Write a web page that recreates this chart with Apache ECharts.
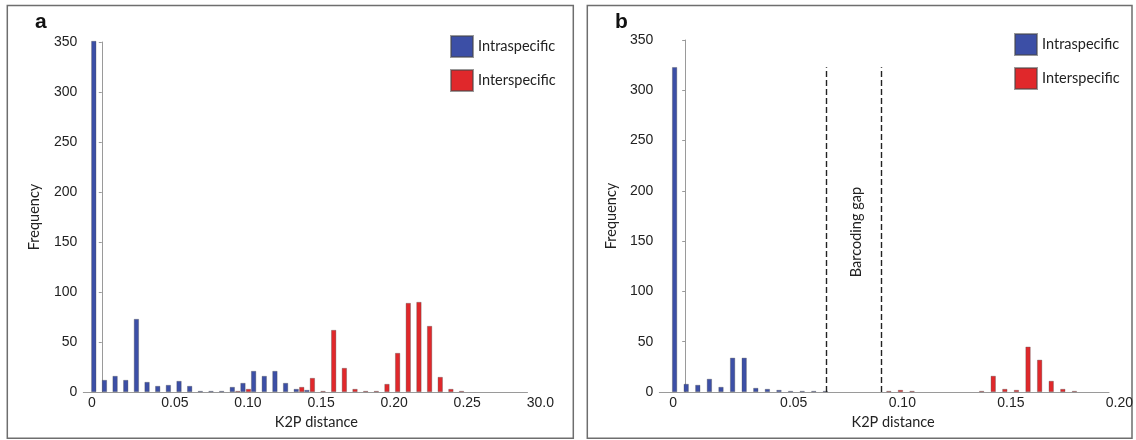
<!DOCTYPE html>
<html>
<head>
<meta charset="utf-8">
<script src="https://cdn.jsdelivr.net/npm/echarts@6/dist/echarts.min.js"></script>
<style>
  html, body { margin: 0; padding: 0; background: #fff; }
  #chart { width: 1136px; height: 440px; }
</style>
</head>
<body>
<div id="chart"></div>
<script>
// K2P distance histograms (counts per bin)
// panel a
const intraA = [351, 12, 16, 12, 73, 10, 6, 7, 11, 6, 1, 1, 1, 5, 9, 21, 16, 21, 9, 3, 2,
  0, 0, 0, 0, 0, 0, 0, 0, 0, 0, 0, 0, 0, 0];
const interA = [0, 0, 0, 0, 0, 0, 0, 0, 0, 0, 0, 0, 0, 1, 3, 0, 0, 0, 0, 5, 14,
  1, 62, 24, 3, 1, 1, 8, 39, 89, 90, 66, 15, 3, 1];
const tickLabelsA = ['0', '0.05', '0.10', '0.15', '0.20', '0.25', '30.0'];

// panel b
const intraB = [323, 8, 7, 13, 5, 34, 34, 4, 3, 2, 1, 1, 1, 1, 0, 0, 0, 0, 0, 0, 0,
  0, 0, 0, 0, 0, 0, 0, 0, 0, 0, 0, 0, 0, 0];
const interB = [0, 0, 0, 0, 0, 0, 0, 0, 0, 0, 0, 0, 0, 0, 0, 0, 0, 0, 1, 2, 1,
  0, 0, 0, 0, 0, 1, 16, 3, 2, 45, 32, 11, 3, 1];
const tickLabelsB = ['0', '0.05', '0.10', '0.15', '0.20'];
const gapLines = [0.0660, 0.0913];   // barcoding gap boundaries (K2P)
const gapTop = 323;

const seriesNames = ['Intraspecific', 'Interspecific'];
const colors = ['#3C4FA6', '#E0282B'];

// bin layout of each panel (the original axes are drawn a bit loosely)
const binA = 0.00729, startA = -0.0036, minA = -0.01266, maxA = 0.29126;
const binB = 0.00532, startB = -0.0036, minB = -0.01188, maxB = 0.19440;

const txtFont = 'Lato';
const numFont = 'Liberation Sans';
const tickStyle = {fontFamily: numFont, fontSize: 14, color: '#222'};

function toBars(values, start, bin) {
  return values.map((v, i) => [start + i * bin, v === 0 ? '-' : v]);
}

// main x axis: line + name, no labels
function xAxisFor(grid, min, max, namePad) {
  return {
    gridIndex: grid,
    type: 'value',
    min: min,
    max: max,
    name: 'K2P distance',
    nameLocation: 'middle',
    nameGap: 23,
    nameTextStyle: {fontFamily: txtFont, fontSize: 14.5, color: '#222', padding: [0, 0, 0, namePad]},
    axisLine: {show: true, lineStyle: {color: '#9a9a9a', width: 1}},
    axisTick: {show: false},
    splitLine: {show: false},
    axisLabel: {show: false}
  };
}

// tick label axis, sits in its own grid so that 0 lands where the figure puts it
function labelAxisFor(grid, labels, shiftFirst) {
  return {
    gridIndex: grid,
    type: 'value',
    min: 0,
    max: (labels.length - 1) * 0.05,
    interval: 0.05,
    axisLine: {show: false},
    axisTick: {show: false},
    splitLine: {show: false},
    axisLabel: Object.assign({
      margin: 4,
      showMinLabel: true,
      showMaxLabel: true,
      formatter: function (value) {
        const k = Math.round(value / 0.05);
        return k === 0 ? '{first|' + labels[0] + '}' : labels[k];
      },
      rich: {first: Object.assign({padding: [0, shiftFirst, 0, 0]}, tickStyle)}
    }, tickStyle)
  };
}

function yAxisFor(grid, gap) {
  return {
    gridIndex: grid,
    type: 'value',
    min: 0,
    max: 350,
    interval: 50,
    name: 'Frequency',
    nameLocation: 'middle',
    nameGap: gap,
    nameTextStyle: {fontFamily: txtFont, fontSize: 14.5, color: '#222'},
    axisLine: {show: true, lineStyle: {color: '#9a9a9a', width: 1}},
    axisTick: {show: true, length: 3, lineStyle: {color: '#9a9a9a'}},
    splitLine: {show: false},
    axisLabel: Object.assign({margin: 6}, tickStyle)
  };
}

function barSeries(name, idx, data, color, extra) {
  return Object.assign({
    name: name,
    type: 'bar',
    xAxisIndex: idx,
    yAxisIndex: idx,
    data: data,
    barWidth: 5,
    barGap: '10%',
    clip: false,
    itemStyle: {color: color, borderColor: 'rgba(70,70,70,0.55)', borderWidth: 0.6}
  }, extra || {});
}

function legendFor(left, top) {
  return {
    left: left,
    top: top,
    padding: 0,
    orient: 'vertical',
    icon: 'rect',
    itemWidth: 22,
    itemHeight: 21,
    itemGap: 11,
    data: seriesNames,
    selectedMode: false,
    textStyle: {fontFamily: txtFont, fontSize: 14.5, color: '#222'}
  };
}

const chart = echarts.init(document.getElementById('chart'), null, {renderer: 'canvas'});

const option = {
  animation: false,
  backgroundColor: '#fff',
  color: colors,
  title: [
    {text: 'a', left: 35, top: 12, padding: 0, textStyle: {fontFamily: numFont, fontWeight: 'bold', fontSize: 21, color: '#111'}},
    {text: 'b', left: 615, top: 12, padding: 0, textStyle: {fontFamily: numFont, fontWeight: 'bold', fontSize: 21, color: '#111'}}
  ],
  legend: [legendFor(450, 35), legendFor(1014, 33)],
  grid: [
    {left: 83.3, top: 42, width: 444.2, height: 350},
    {left: 659.3, top: 40, width: 449.7, height: 352},
    {left: 101.8, top: 42, width: 438.5, height: 350},
    {left: 685.2, top: 40, width: 436, height: 352}
  ],
  xAxis: [
    xAxisFor(0, minA, maxA, 22),
    xAxisFor(1, minB, maxB, 18),
    labelAxisFor(2, tickLabelsA, 20),
    labelAxisFor(3, tickLabelsB, 24)
  ],
  yAxis: [
    yAxisFor(0, 41),
    yAxisFor(1, 40),
    {gridIndex: 2, type: 'value', show: false},
    {gridIndex: 3, type: 'value', show: false}
  ],
  series: [
    barSeries(seriesNames[0], 0, toBars(intraA, startA, binA), colors[0]),
    barSeries(seriesNames[1], 0, toBars(interA, startA, binA), colors[1]),
    barSeries(seriesNames[0], 1, toBars(intraB, startB, binB), colors[0], {
      markLine: {
        silent: true,
        symbol: 'none',
        label: {show: false},
        lineStyle: {color: '#222', width: 1.4, type: [6, 3]},
        data: gapLines.map(x => [{coord: [x, 0]}, {coord: [x, gapTop]}])
      }
    }),
    barSeries(seriesNames[1], 1, toBars(interB, startB, binB), colors[1])
  ]
};
chart.setOption(option);

// panel frames and the "Barcoding gap" note
const gapMid = chart.convertToPixel({gridIndex: 1}, [(gapLines[0] + gapLines[1]) / 2, 159]);
chart.setOption({
  graphic: [
    {type: 'rect', shape: {x: 7.3, y: 5.5, width: 566, height: 432.8}, style: {fill: 'none', stroke: '#6e6e6e', lineWidth: 1.5}, z: -1},
    {type: 'rect', shape: {x: 587.3, y: 5.5, width: 544.7, height: 432.8}, style: {fill: 'none', stroke: '#6e6e6e', lineWidth: 1.5}, z: -1},
    {
      type: 'text',
      x: gapMid[0],
      y: gapMid[1],
      rotation: Math.PI / 2,
      style: {text: 'Barcoding gap', fontFamily: txtFont, fontSize: 14.5, fill: '#222', align: 'center', verticalAlign: 'middle'}
    }
  ]
});
</script>
</body>
</html>
